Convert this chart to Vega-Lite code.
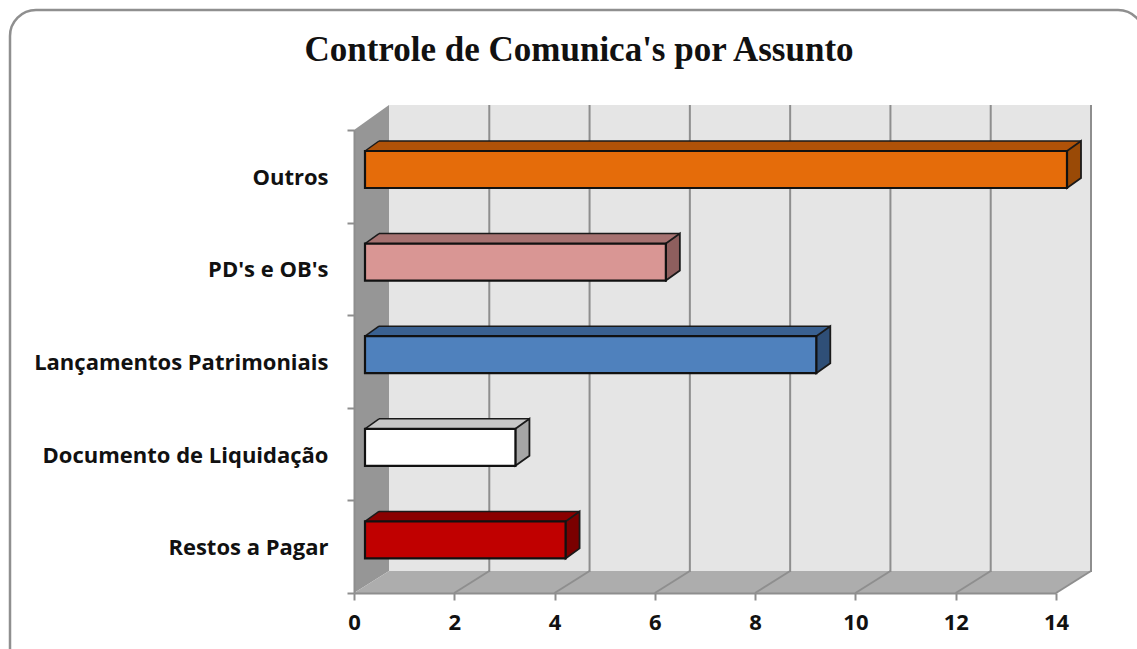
{"$schema":"https://vega.github.io/schema/vega-lite/v6.json","width":702,"height":463,"autosize":"none","padding":{"left":354,"top":130,"right":81,"bottom":56},"background":"#ffffff",
"title":{"text":"Controle de Comunica's por Assunto","font":"Liberation Serif","fontSize":35,"fontWeight":"bold","color":"#111111","anchor":"middle","dx":-126,"offset":-59},
"config":{"view":{"stroke":null}},
"datasets":{"assuntos":[{"assunto":"Outros","base":0,"valor":14},{"assunto":"PD's e OB's","base":0,"valor":6},{"assunto":"Lançamentos Patrimoniais","base":0,"valor":9},{"assunto":"Documento de Liquidação","base":0,"valor":3},{"assunto":"Restos a Pagar","base":0,"valor":4}],
"marcas":[{"marca":2},{"marca":4},{"marca":6},{"marca":8},{"marca":10},{"marca":12},{"marca":14}]},
"data":{"name":"assuntos"},
"resolve":{"scale":{"fill":"independent"}},
"layer":[
{"mark":{"type":"rect","fill":"#ffffff","stroke":"#8f8f8f","strokeWidth":2.5,"cornerRadius":26},"encoding":{"x":{"value":-344},"x2":{"value":790},"y":{"value":-120},"y2":{"value":570}},"data":{"values":[{"a":1}]}},
{"mark":{"type":"rect","fill":"#e5e5e5"},"encoding":{"x":{"value":35},"x2":{"value":737},"y":{"value":-25},"y2":{"value":442}},"data":{"values":[{"a":1}]}},
{"mark":{"type":"point","filled":true,"opacity":1,"size":4,"fill":"#969696","stroke":null,"shape":"M0,0L35,-22L35,-488L0,-463Z"},"encoding":{"x":{"value":0},"y":{"value":463}},"data":{"values":[{"a":1}]}},
{"mark":{"type":"point","filled":true,"opacity":1,"size":4,"fill":"#adadad","stroke":null,"shape":"M0,0L35,-22L737,-22L702,0Z"},"encoding":{"x":{"value":0},"y":{"value":463}},"data":{"values":[{"a":1}]}},
{"data":{"name":"marcas"},"mark":{"type":"rule","color":"#8e8e8e","strokeWidth":2,"xOffset":35},"encoding":{"x":{"field":"marca","type":"quantitative"},"y":{"value":-25},"y2":{"value":442}}},
{"data":{"name":"marcas"},"mark":{"type":"rule","color":"#8e8e8e","strokeWidth":2,"x2Offset":35},"encoding":{"x":{"field":"marca","type":"quantitative"},"x2":{"field":"marca"},"y":{"value":463},"y2":{"value":441}}},
{"mark":{"type":"bar","size":10,"xOffset":12,"x2Offset":25,"yOffset":-30.3},
"encoding":{"x":{"field":"valor","type":"quantitative","scale":{"domain":[0,14],"nice":false},"axis":{"zindex":1,"values":[0,2,4,6,8,10,12,14],"grid":false,"title":null,"labelFont":"Open Sans","labelFontWeight":"bold","labelFontSize":22,"labelColor":"#111111","labelPadding":12,"tickColor":"#8e8e8e","tickWidth":2,"tickSize":7,"domainColor":"#8e8e8e","domainWidth":2,"labelFlush":false}},"x2":{"field":"base"},
"y":{"field":"assunto","type":"nominal","sort":null,"scale":{"domain":["Outros","PD's e OB's","Lançamentos Patrimoniais","Documento de Liquidação","Restos a Pagar"],"paddingInner":0,"paddingOuter":0},"axis":{"zindex":1,"title":null,"tickBand":"extent","labelFont":"Open Sans","labelFontWeight":"bold","labelFontSize":22,"labelColor":"#111111","labelPadding":19,"labelLimit":340,"labelOffset":1,"tickColor":"#8e8e8e","tickWidth":2,"tickSize":7,"domainColor":"#8e8e8e","domainWidth":2}},
"fill":{"field":"assunto","type":"nominal","legend":null,"scale":{"domain":["Outros","PD's e OB's","Lançamentos Patrimoniais","Documento de Liquidação","Restos a Pagar"],"range":["#b05208","#a67271","#3a6191","#c7c7c7","#8a0000"]}}}},
{"mark":{"type":"point","filled":true,"opacity":1,"size":4,"stroke":null,"shape":"M11,-25.3L25,-35.3L25,-25.3Z"},"encoding":{"x":{"field":"base","type":"quantitative"},"y":{"field":"assunto","type":"nominal","sort":null},"fill":{"field":"assunto","type":"nominal","legend":null,"scale":{"domain":["Outros","PD's e OB's","Lançamentos Patrimoniais","Documento de Liquidação","Restos a Pagar"],"range":["#b05208","#a67271","#3a6191","#c7c7c7","#8a0000"]}}}},
{"mark":{"type":"point","filled":true,"opacity":1,"size":4,"stroke":null,"shape":"M11,-25.3L25,-35.3L11,-35.3Z"},"encoding":{"x":{"field":"valor","type":"quantitative"},"y":{"field":"assunto","type":"nominal","sort":null},"fill":{"field":"assunto","type":"nominal","legend":null,"scale":{"domain":["Outros","PD's e OB's","Lançamentos Patrimoniais","Documento de Liquidação","Restos a Pagar"],"range":["#b05208","#a67271","#3a6191","#c7c7c7","#8a0000"]}}}},
{"mark":{"type":"rule","color":"#1a1a1a","strokeWidth":1.5,"xOffset":25,"x2Offset":25,"yOffset":-35.3},"encoding":{"x":{"field":"base","type":"quantitative"},"x2":{"field":"valor"},"y":{"field":"assunto","type":"nominal","sort":null}}},
{"mark":{"type":"point","filled":false,"opacity":1,"size":4,"stroke":"#1a1a1a","strokeWidth":1.5,"shape":"M11,-25.3L25,-35.3"},"encoding":{"x":{"field":"base","type":"quantitative"},"y":{"field":"assunto","type":"nominal","sort":null}}},
{"mark":{"type":"point","filled":true,"opacity":1,"size":4,"stroke":"#1a1a1a","strokeWidth":1.8,"shape":"M11,-25.3L25,-35.3L25,1.7L11,11.7Z"},"encoding":{"x":{"field":"valor","type":"quantitative"},"y":{"field":"assunto","type":"nominal","sort":null},"fill":{"field":"assunto","type":"nominal","legend":null,"scale":{"domain":["Outros","PD's e OB's","Lançamentos Patrimoniais","Documento de Liquidação","Restos a Pagar"],"range":["#9a4a06","#8e5f5e","#2f4f77","#a6a6a6","#7a0000"]}}}},
{"mark":{"type":"bar","size":37,"xOffset":11,"x2Offset":11,"yOffset":-6.8,"stroke":"#111111","strokeWidth":2.2},"encoding":{"x":{"field":"valor","type":"quantitative"},"x2":{"field":"base"},"y":{"field":"assunto","type":"nominal","sort":null},"fill":{"field":"assunto","type":"nominal","legend":null,"scale":{"domain":["Outros","PD's e OB's","Lançamentos Patrimoniais","Documento de Liquidação","Restos a Pagar"],"range":["#e56c0a","#d99694","#4f81bd","#ffffff","#c00000"]}}}}
]}
